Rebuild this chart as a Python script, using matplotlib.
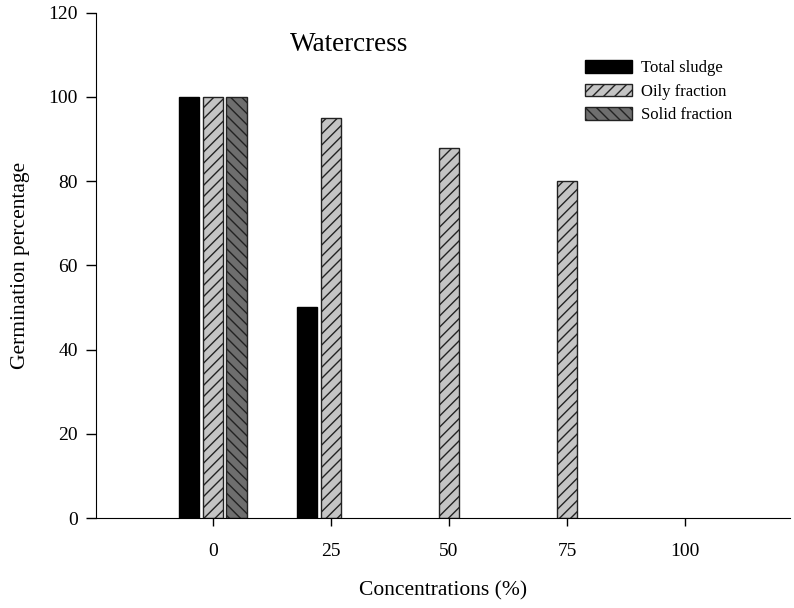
import numpy as np
import matplotlib
matplotlib.use("Agg")
import matplotlib.pyplot as plt

# dados
concentracoes = ["0", "25", "50", "75", "100"]
total_sludge = [100, 50, 0, 0, 0]
oily_fraction = [100, 95, 88, 80, 0]
solid_fraction = [100, 0, 0, 0, 0]

plt.rcParams['font.family'] = ['Liberation Serif', 'DejaVu Serif']
plt.rcParams['hatch.linewidth'] = 1.0

fig = plt.figure(figsize=(7.94, 6.08), dpi=100)
ax = fig.add_axes([0.121, 0.148, 0.874, 0.831])

x = np.arange(len(concentracoes))
w = 0.17
off = 0.2

# barras com valor zero nao aparecem no original
def sem_zero(v):
    v = np.array(v, dtype=float)
    return np.where(v == 0, np.nan, v)

ax.bar(x - off, sem_zero(total_sludge), w, color='black', edgecolor='black', lw=1, label='Total sludge')
ax.bar(x, sem_zero(oily_fraction), w, color='#c4c4c4', edgecolor='#222222', lw=1, hatch='///', label='Oily fraction')
ax.bar(x + off, sem_zero(solid_fraction), w, color='#6e6e6e', edgecolor='#222222', lw=1, hatch='\\\\\\', label='Solid fraction')

ax.set_xlim(-0.99, 4.89)
ax.set_ylim(0, 120)
ax.set_yticks(range(0, 121, 20))
ax.set_xticks(x)
ax.set_xticklabels(concentracoes)

ax.spines['top'].set_visible(False)
ax.spines['right'].set_visible(False)
ax.tick_params(axis='y', length=7, width=1, labelsize=14, pad=6)
ax.tick_params(axis='x', length=6, width=1, labelsize=14, pad=12)

ax.set_xlabel('Concentrations (%)', fontsize=15.5, labelpad=15)
ax.set_ylabel('Germination percentage', fontsize=15.5, labelpad=13)

ax.text(0.28, 0.938, 'Watercress', transform=ax.transAxes, fontsize=19.5, va='center', ha='left')

ax.legend(loc='upper left', bbox_to_anchor=(0.695, 0.92), frameon=False, fontsize=12,
          handlelength=2.8, handleheight=0.8, handletextpad=0.55, labelspacing=0.45,
          borderaxespad=0)

plt.savefig('out.png', dpi=100)
